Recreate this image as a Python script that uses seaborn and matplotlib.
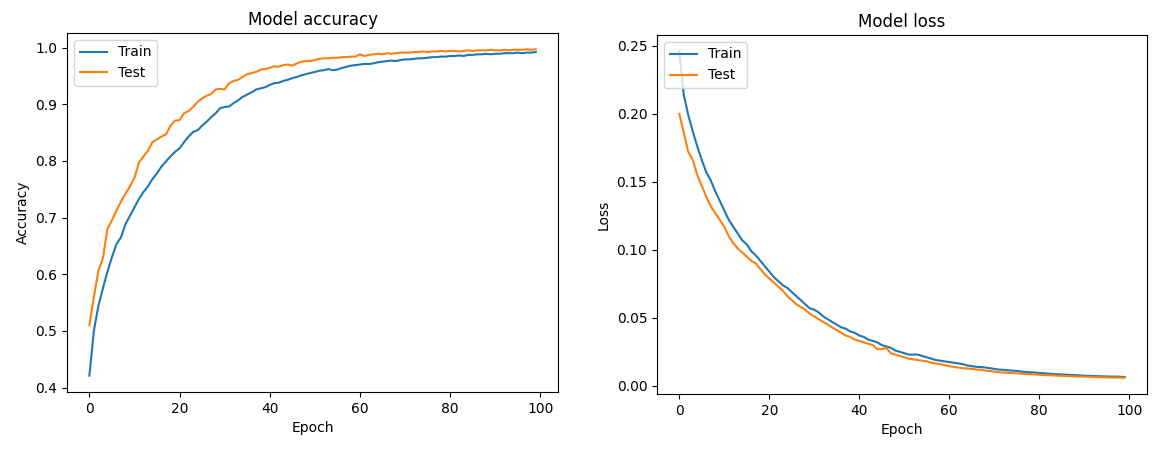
import numpy as np
import pandas as pd
import matplotlib
matplotlib.use("Agg")
import matplotlib.pyplot as plt
import seaborn as sns

# valores (100 epocas)
acc_train = [0.421, 0.500, 0.544, 0.575, 0.604, 0.630, 0.653, 0.665, 0.688, 0.703,
             0.718, 0.733, 0.745, 0.755, 0.768, 0.778, 0.790, 0.799, 0.808, 0.816,
             0.822, 0.833, 0.843, 0.851, 0.854, 0.862, 0.869, 0.877, 0.884, 0.893,
             0.895, 0.896, 0.902, 0.907, 0.913, 0.917, 0.921, 0.926, 0.928, 0.930,
             0.934, 0.937, 0.938, 0.941, 0.943, 0.946, 0.948, 0.951, 0.953, 0.955,
             0.957, 0.959, 0.960, 0.962, 0.960, 0.961, 0.964, 0.966, 0.968, 0.969,
             0.970, 0.971, 0.971, 0.972, 0.974, 0.975, 0.976, 0.977, 0.976, 0.978,
             0.979, 0.979, 0.980, 0.981, 0.981, 0.982, 0.983, 0.983, 0.984, 0.984,
             0.985, 0.985, 0.986, 0.985, 0.987, 0.987, 0.988, 0.988, 0.989, 0.988,
             0.989, 0.989, 0.990, 0.990, 0.990, 0.991, 0.990, 0.991, 0.991, 0.992]
acc_test = [0.510, 0.560, 0.606, 0.628, 0.680, 0.695, 0.712, 0.728, 0.742, 0.755,
            0.770, 0.797, 0.808, 0.818, 0.833, 0.838, 0.843, 0.847, 0.862, 0.871,
            0.872, 0.884, 0.888, 0.895, 0.904, 0.910, 0.915, 0.918, 0.926, 0.927,
            0.926, 0.937, 0.941, 0.943, 0.948, 0.953, 0.955, 0.957, 0.961, 0.962,
            0.964, 0.967, 0.966, 0.969, 0.970, 0.968, 0.972, 0.975, 0.976, 0.976,
            0.978, 0.980, 0.981, 0.981, 0.982, 0.982, 0.983, 0.983, 0.984, 0.984,
            0.988, 0.985, 0.987, 0.988, 0.989, 0.988, 0.990, 0.989, 0.990, 0.991,
            0.991, 0.991, 0.992, 0.992, 0.993, 0.992, 0.993, 0.993, 0.994, 0.993,
            0.994, 0.994, 0.993, 0.994, 0.995, 0.994, 0.995, 0.995, 0.995, 0.996,
            0.995, 0.995, 0.996, 0.995, 0.996, 0.996, 0.996, 0.997, 0.996, 0.997]
loss_train = [0.246, 0.214, 0.199, 0.187, 0.176, 0.166, 0.157, 0.151, 0.143, 0.136,
              0.129, 0.122, 0.117, 0.112, 0.107, 0.104, 0.099, 0.096, 0.092, 0.088,
              0.084, 0.080, 0.077, 0.074, 0.072, 0.069, 0.066, 0.063, 0.060, 0.057,
              0.056, 0.054, 0.051, 0.049, 0.047, 0.045, 0.043, 0.042, 0.040, 0.039,
              0.037, 0.036, 0.034, 0.033, 0.032, 0.030, 0.029, 0.028, 0.026, 0.025,
              0.024, 0.023, 0.023, 0.023, 0.022, 0.021, 0.020, 0.019, 0.0185, 0.018,
              0.0175, 0.017, 0.0165, 0.016, 0.015, 0.0145, 0.014, 0.0138, 0.0135, 0.013,
              0.0125, 0.012, 0.0118, 0.0115, 0.0112, 0.011, 0.0105, 0.0102, 0.010, 0.0098,
              0.0095, 0.0093, 0.009, 0.0088, 0.0086, 0.0084, 0.0082, 0.008, 0.0079, 0.0077,
              0.0075, 0.0074, 0.0072, 0.0071, 0.007, 0.0069, 0.0068, 0.0068, 0.0067, 0.0065]
loss_test = [0.200, 0.186, 0.172, 0.166, 0.155, 0.147, 0.139, 0.132, 0.127, 0.122,
             0.117, 0.110, 0.105, 0.101, 0.098, 0.095, 0.092, 0.090, 0.086, 0.082,
             0.079, 0.076, 0.073, 0.070, 0.066, 0.063, 0.060, 0.058, 0.056, 0.053,
             0.051, 0.049, 0.047, 0.045, 0.043, 0.041, 0.039, 0.037, 0.036, 0.034,
             0.033, 0.032, 0.031, 0.030, 0.027, 0.027, 0.028, 0.024, 0.023, 0.022,
             0.021, 0.020, 0.0195, 0.019, 0.0185, 0.018, 0.017, 0.0165, 0.016, 0.0152,
             0.0145, 0.014, 0.0135, 0.013, 0.0128, 0.0125, 0.012, 0.0118, 0.0112, 0.011,
             0.0105, 0.010, 0.0098, 0.0096, 0.0094, 0.0092, 0.009, 0.0088, 0.0086, 0.0084,
             0.0082, 0.008, 0.0078, 0.0077, 0.0075, 0.0074, 0.0072, 0.0071, 0.007, 0.0069,
             0.0068, 0.0067, 0.0065, 0.0064, 0.0063, 0.0062, 0.0061, 0.0061, 0.006, 0.006]
series = ["Train", "Test"]

epochs = np.arange(len(acc_train))

df_acc = pd.DataFrame({
    "Epoch": np.concatenate([epochs, epochs]),
    "valor": acc_train + acc_test,
    "serie": [series[0]] * len(epochs) + [series[1]] * len(epochs),
})
df_loss = pd.DataFrame({
    "Epoch": np.concatenate([epochs, epochs]),
    "valor": loss_train + loss_test,
    "serie": [series[0]] * len(epochs) + [series[1]] * len(epochs),
})

plt.rcParams["font.family"] = ["DejaVu Sans"]
colores = ["#1f77b4", "#ff7f0e"]

fig = plt.figure(figsize=(11.72, 4.5), dpi=100)
ax1 = fig.add_axes([0.0572, 0.1289, 0.419, 0.798])
ax2 = fig.add_axes([0.5606, 0.1244, 0.418, 0.798])

# grafica de precision
sns.lineplot(data=df_acc, x="Epoch", y="valor", hue="serie", palette=colores,
             linewidth=1.5, ax=ax1)
ax1.set_title("Model accuracy", fontsize=12)
ax1.set_ylabel("Accuracy")
ax1.set_xlabel("Epoch")
ax1.legend(loc="upper left", title=None)

# grafica de perdida
sns.lineplot(data=df_loss, x="Epoch", y="valor", hue="serie", palette=colores,
             linewidth=1.5, ax=ax2)
ax2.set_title("Model loss", fontsize=12)
ax2.set_ylabel("Loss")
ax2.set_xlabel("Epoch")
ax2.legend(loc="upper left", title=None)

for ax in (ax1, ax2):
    ax.set_xticks([0, 20, 40, 60, 80, 100])

fig.savefig("out.png", dpi=100)
